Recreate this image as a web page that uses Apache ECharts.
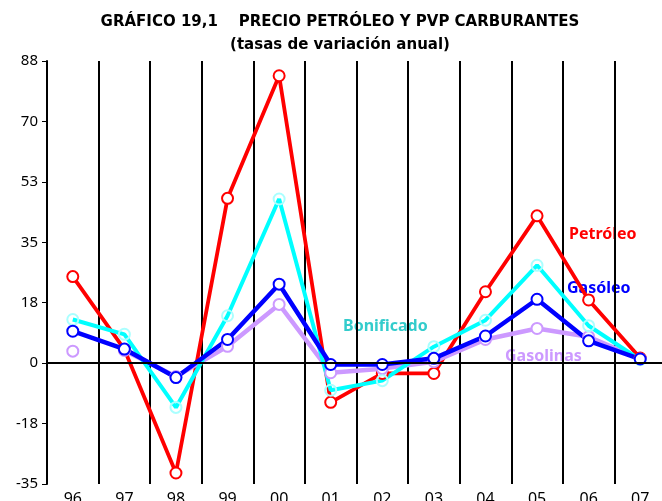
<!DOCTYPE html>
<html>
<head>
<meta charset="utf-8">
<script src="https://cdn.jsdelivr.net/npm/echarts@6/dist/echarts.min.js"></script>
<style>
  html, body { margin: 0; padding: 0; background: #fff; }
  #chart { width: 662px; height: 501px; }
</style>
</head>
<body>
<div id="chart"></div>
<script>
// años (eje x)
var years = ['96', '97', '98', '99', '00', '01', '02', '03', '04', '05', '06', '07'];

// tasas de variación anual (%)
var petroleo   = [25.2, 4.0, -32.0, 48.0, 83.7, -11.4, -3.0, -3.0, 20.8, 42.9, 18.4, 1.5];
var gasoleo    = [9.3, 4.1, -4.2, 6.9, 23.0, -0.4, -0.4, 1.4, 7.9, 18.6, 6.5, 1.2];
var bonificado = [12.7, 8.4, -12.9, 13.8, 47.8, -7.9, -5.1, 4.8, 12.5, 28.5, 10.9, 1.0];
var gasolinas  = [3.5, 3.7, -3.9, 4.9, 17.1, -2.8, -1.6, 0.4, 6.9, 10.1, 7.7, 1.2];

// la serie de gasolinas no une 96 con 97
var gasolinas96 = gasolinas.map(function (v, i) { return i === 0 ? v : null; });
var gasolinasResto = gasolinas.map(function (v, i) { return i === 0 ? null : v; });

var chart = echarts.init(document.getElementById('chart'));
var font = 'Noto Sans';

function serie(name, data, color, width, border, fill) {
  return {
    name: name,
    type: 'line',
    data: data,
    symbol: 'circle',
    symbolSize: 11,
    showAllSymbol: true,
    connectNulls: false,
    lineStyle: { color: color, width: width },
    itemStyle: { color: fill || '#fff', borderColor: border || color, borderWidth: 2 },
    emphasis: { disabled: true },
    animation: false
  };
}

chart.setOption({
  animation: false,
  title: {
    text: 'GRÁFICO 19,1    PRECIO PETRÓLEO Y PVP CARBURANTES\n(tasas de variación anual)',
    left: 335,
    textAlign: 'center',
    top: 6,
    textStyle: {
      fontFamily: 'DejaVu Sans',
      fontWeight: 'bold',
      fontSize: 15,
      lineHeight: 23,
      color: '#000'
    }
  },
  grid: { left: 47, right: -4, top: 61, bottom: 17, outerBoundsMode: 'none' },
  xAxis: {
    type: 'category',
    data: years,
    boundaryGap: true,
    axisLine: { show: false },
    axisTick: { show: false },
    axisLabel: { color: '#000', fontFamily: font, fontSize: 16, margin: 7 },
    splitLine: { show: true, lineStyle: { color: '#000', width: 2 } }
  },
  yAxis: {
    type: 'value',
    min: -35.2,
    max: 88,
    interval: 17.6,
    axisLine: { show: true, lineStyle: { color: '#000', width: 2 } },
    axisTick: { show: true, length: 5, lineStyle: { color: '#000', width: 1 } },
    axisLabel: {
      color: '#000', fontFamily: font, fontSize: 15, margin: 9,
      formatter: function (v) { return Math.round(v); }
    },
    splitLine: { show: false }
  },
  series: [
    Object.assign(serie('Petróleo', petroleo, '#ff0000', 3.8), {
      markLine: {
        silent: true,
        symbol: 'none',
        label: { show: false },
        lineStyle: { color: '#000', width: 2, type: 'solid' },
        data: [{ yAxis: 0 }]
      }
    }),
    serie('Gasolinas', gasolinasResto, '#cc99ff', 4.5),
    serie('Gasolinas 96', gasolinas96, '#cc99ff', 4.5),
    serie('Bonificado', bonificado, '#00ffff', 4, '#aaffff', 'rgba(255,255,255,0)'),
    serie('Gasóleo', gasoleo, '#0000ff', 4.5)
  ],
  graphic: [
    { type: 'text', left: 569, top: 226, style: { text: 'Petróleo', fill: '#ff0000', font: 'bold 16px "Noto Sans"' } },
    { type: 'text', left: 567, top: 280, style: { text: 'Gasóleo', fill: '#0000ff', font: 'bold 16px "Noto Sans"' } },
    { type: 'text', left: 343, top: 318, style: { text: 'Bonificado', fill: '#33cccc', font: 'bold 16px "Noto Sans"' } },
    { type: 'text', left: 505, top: 348, style: { text: 'Gasolinas', fill: '#cc99ff', font: 'bold 16px "Noto Sans"' } }
  ]
});
</script>
</body>
</html>
